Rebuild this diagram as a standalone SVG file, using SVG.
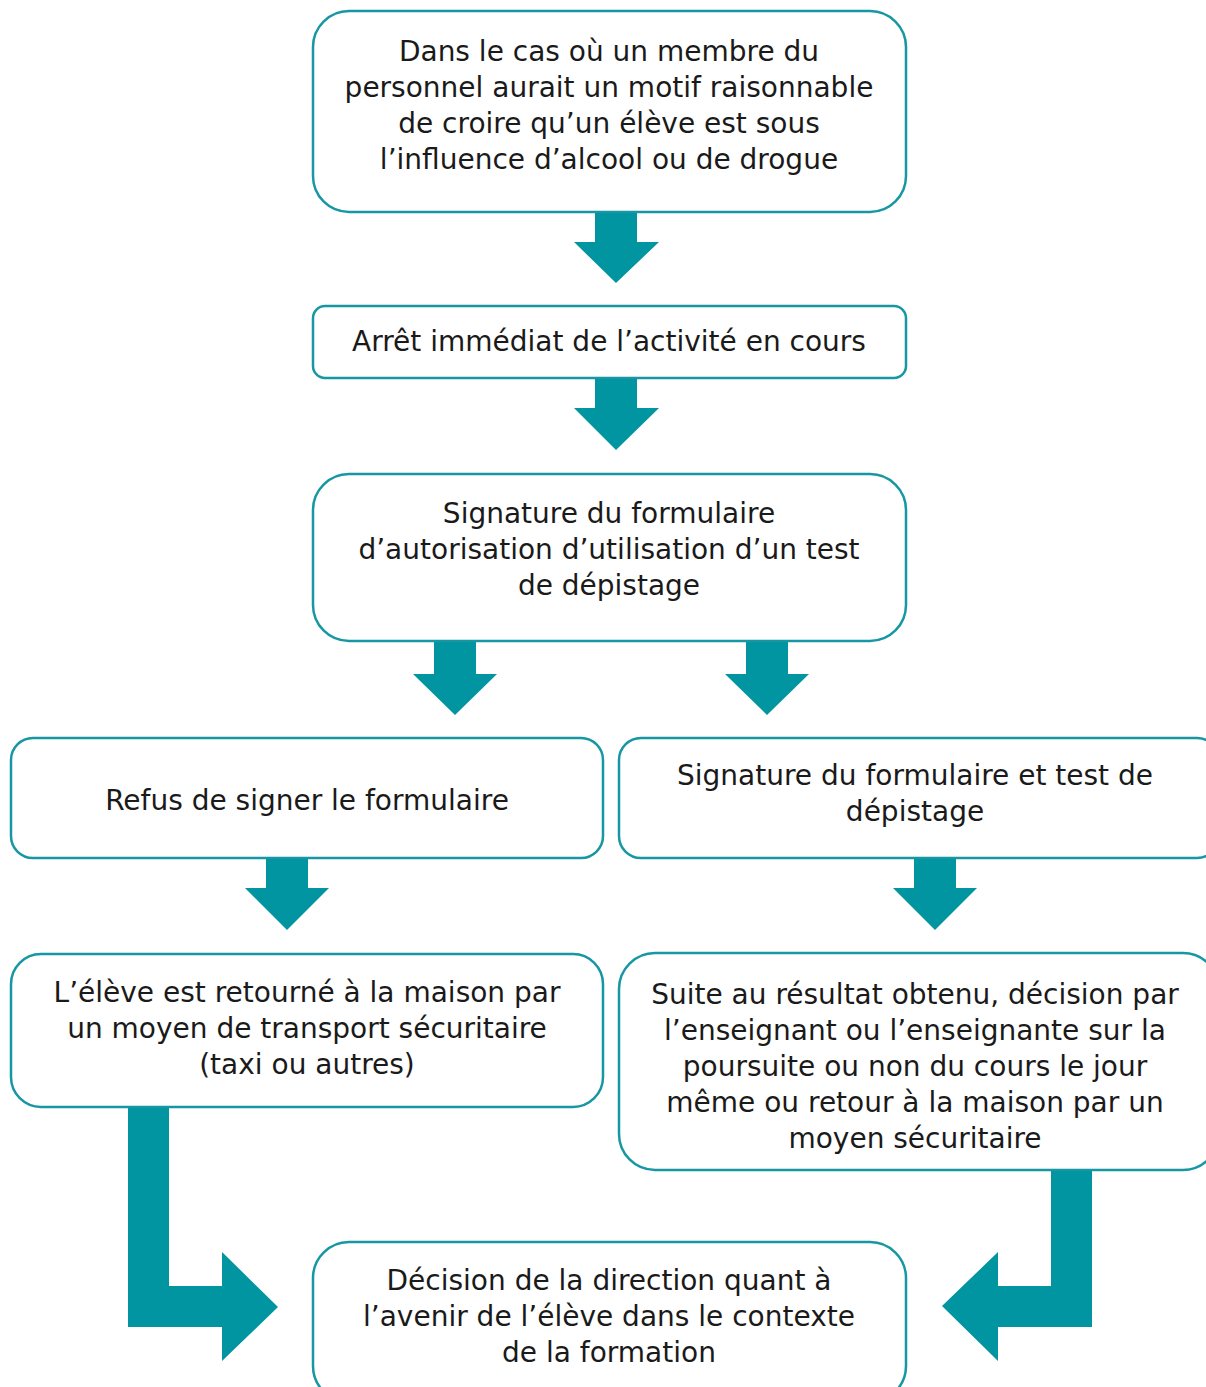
<svg xmlns="http://www.w3.org/2000/svg" width="1206" height="1387" viewBox="0 0 1206 1387">
<style>
.box{fill:#fff;stroke:#1797a3;stroke-width:2.5}
.arr{fill:#0095a1}
text{font-family:"DejaVu Sans",sans-serif;font-size:28px;fill:#1a1a1a;text-anchor:middle}
</style>
<rect width="1206" height="1387" fill="#fff"/>
<g id="connectors">
<polygon class="arr" points="595,208 637,208 637,242 659,242 616,283 574,242 595,242"/>
<polygon class="arr" points="595,375 637,375 637,408 659,408 616,450 574,408 595,408"/>
<polygon class="arr" points="434,640 476,640 476,674 497,674 455,715 413,674 434,674"/>
<polygon class="arr" points="746,640 788,640 788,674 809,674 767,715 725,674 746,674"/>
<polygon class="arr" points="266,855 308,855 308,888 329,888 287,930 245,888 266,888"/>
<polygon class="arr" points="914,855 956,855 956,888 977,888 935,930 893,888 914,888"/>
<polygon class="arr" points="128,1106 169,1106 169,1286 222,1286 222,1252 278,1307 222,1361 222,1327 128,1327"/>
<polygon class="arr" points="1051,1170 1092,1170 1092,1327 998,1327 998,1361 942,1306 998,1252 998,1286 1051,1286"/>
</g>
<g id="n1"><rect class="box" x="313" y="11" width="593" height="201" rx="36"/>
<text x="609" y="61">Dans le cas où un membre du</text>
<text x="609" y="97">personnel aurait un motif raisonnable</text>
<text x="609" y="133">de croire qu’un élève est sous</text>
<text x="609" y="169">l’influence d’alcool ou de drogue</text></g>
<g id="n2"><rect class="box" x="313" y="306" width="593" height="72" rx="12"/>
<text x="609" y="351">Arrêt immédiat de l’activité en cours</text></g>
<g id="n3"><rect class="box" x="313" y="474" width="593" height="167" rx="36"/>
<text x="609" y="523">Signature du formulaire</text>
<text x="609" y="559">d’autorisation d’utilisation d’un test</text>
<text x="609" y="595">de dépistage</text></g>
<g id="n4"><rect class="box" x="11" y="738" width="592" height="120" rx="22"/>
<text x="307" y="810">Refus de signer le formulaire</text></g>
<g id="n5"><rect class="box" x="619" y="738" width="600" height="120" rx="22"/>
<text x="915" y="785">Signature du formulaire et test de</text>
<text x="915" y="821">dépistage</text></g>
<g id="n6"><rect class="box" x="11" y="954" width="592" height="153" rx="30"/>
<text x="307" y="1002">L’élève est retourné à la maison par</text>
<text x="307" y="1038">un moyen de transport sécuritaire</text>
<text x="307" y="1074">(taxi ou autres)</text></g>
<g id="n7"><rect class="box" x="619" y="953" width="600" height="217" rx="36"/>
<text x="915" y="1004">Suite au résultat obtenu, décision par</text>
<text x="915" y="1040">l’enseignant ou l’enseignante sur la</text>
<text x="915" y="1076">poursuite ou non du cours le jour</text>
<text x="915" y="1112">même ou retour à la maison par un</text>
<text x="915" y="1148">moyen sécuritaire</text></g>
<g id="n8"><rect class="box" x="313" y="1242" width="593" height="160" rx="36"/>
<text x="609" y="1290">Décision de la direction quant à</text>
<text x="609" y="1326">l’avenir de l’élève dans le contexte</text>
<text x="609" y="1362">de la formation</text></g>
</svg>
